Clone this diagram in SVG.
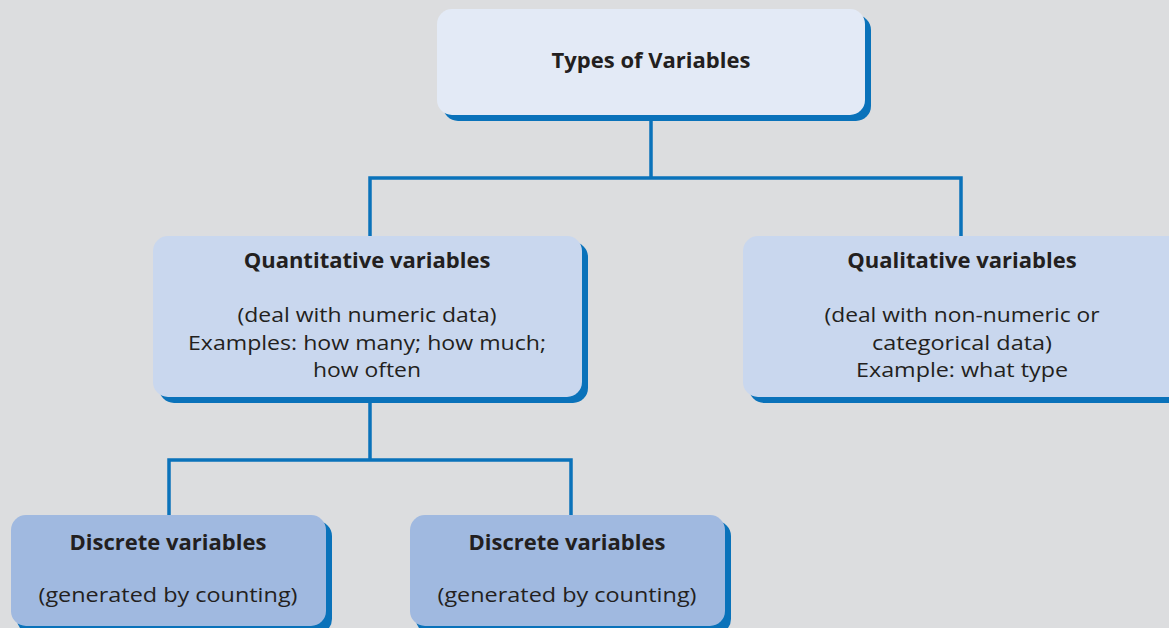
<svg xmlns="http://www.w3.org/2000/svg" width="1169" height="628" viewBox="0 0 1169 628">
  <style>
    .shadow { fill: #0A72BA; }
    .lvl0 { fill: #E3EAF6; }
    .lvl1 { fill: #C9D7EE; }
    .lvl2 { fill: #A0B9E0; }
    .title { font-family: "Open Sans", Lato, sans-serif; font-weight: bold; font-size: 22px; fill: #231F20; text-anchor: middle; }
    .body { font-family: "Open Sans", Lato, sans-serif; font-size: 20.5px; fill: #231F20; text-anchor: middle; }
    .wire { fill: none; stroke: #0A72BA; stroke-width: 3.5; stroke-linejoin: miter; }
  </style>
  <rect width="1169" height="628" fill="#DCDDDF"/>

  <g id="connectors">
    <path class="wire" d="M651 118 V178 M370 178 H961 M370 176.25 V240 M961 176.25 V240"/>
    <path class="wire" d="M370 400 V460 M169 460 H571 M169 458.25 V520 M571 458.25 V520"/>
  </g>

  <g id="types-of-variables">
    <rect class="shadow" x="443" y="15" width="428" height="106" rx="15"/>
    <rect class="lvl0" x="437" y="9" width="428" height="106" rx="15"/>
    <text class="title" x="651" y="68">Types of Variables</text>
  </g>

  <g id="quantitative">
    <rect class="shadow" x="159" y="242" width="429" height="161" rx="15"/>
    <rect class="lvl1" x="153" y="236" width="429" height="161" rx="15"/>
    <text class="title" x="367" y="268">Quantitative variables</text>
    <text class="body" x="367" y="322" textLength="259" lengthAdjust="spacingAndGlyphs">(deal with numeric data)</text>
    <text class="body" x="367" y="350" textLength="358" lengthAdjust="spacingAndGlyphs">Examples: how many; how much;</text>
    <text class="body" x="367" y="377" textLength="108" lengthAdjust="spacingAndGlyphs">how often</text>
  </g>

  <g id="qualitative">
    <rect class="shadow" x="749" y="242" width="440" height="161" rx="15"/>
    <rect class="lvl1" x="743" y="236" width="440" height="161" rx="15"/>
    <text class="title" x="962" y="268">Qualitative variables</text>
    <text class="body" x="962" y="322" textLength="275" lengthAdjust="spacingAndGlyphs">(deal with non-numeric or</text>
    <text class="body" x="962" y="350" textLength="180" lengthAdjust="spacingAndGlyphs">categorical data)</text>
    <text class="body" x="962" y="377" textLength="212" lengthAdjust="spacingAndGlyphs">Example: what type</text>
  </g>

  <g id="discrete-1">
    <rect class="shadow" x="17" y="521" width="315" height="113" rx="15"/>
    <rect class="lvl2" x="11" y="515" width="315" height="111" rx="15"/>
    <text class="title" x="168" y="550">Discrete variables</text>
    <text class="body" x="168" y="602" textLength="259" lengthAdjust="spacingAndGlyphs">(generated by counting)</text>
  </g>

  <g id="discrete-2">
    <rect class="shadow" x="416" y="521" width="315" height="113" rx="15"/>
    <rect class="lvl2" x="410" y="515" width="315" height="111" rx="15"/>
    <text class="title" x="567" y="550">Discrete variables</text>
    <text class="body" x="567" y="602" textLength="259" lengthAdjust="spacingAndGlyphs">(generated by counting)</text>
  </g>
</svg>
